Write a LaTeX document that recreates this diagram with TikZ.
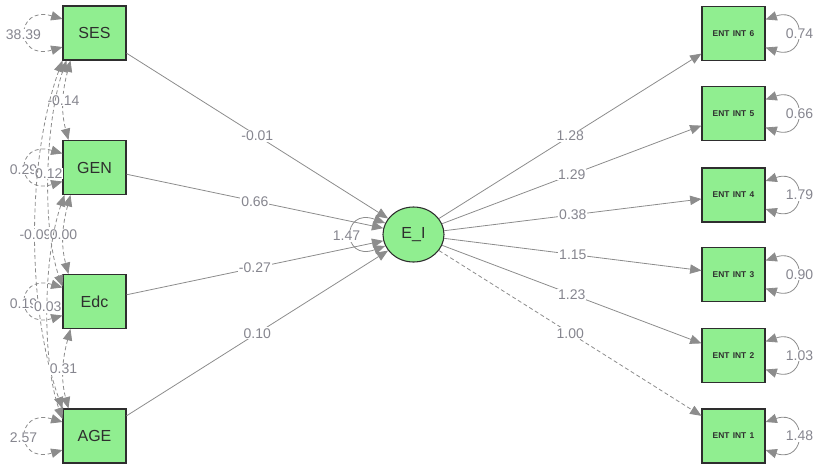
\documentclass[tikz,border=0pt]{standalone}
\usepackage{fontspec}
\setmainfont{Liberation Sans}
\usetikzlibrary{arrows.meta,shapes.geometric,calc}
\definecolor{boxfill}{HTML}{90EE90}
\definecolor{edgecol}{HTML}{8C8C8C}
\definecolor{labcol}{HTML}{86868F}
\definecolor{bordercol}{HTML}{2E2E2E}
\begin{document}
\begin{tikzpicture}[x=0.75pt,y=-0.75pt,
  manifest/.style={rectangle,draw=bordercol,fill=boxfill,line width=0.8pt,minimum width=47.25pt,minimum height=40.5pt,inner sep=0pt,font=\fontsize{12}{14}\selectfont,text=bordercol},
  entbox/.style={manifest,font=\fontsize{6.3}{7}\selectfont\bfseries},
  latent/.style={ellipse,draw=bordercol,fill=boxfill,line width=0.8pt,minimum width=45.75pt,minimum height=41.25pt,inner sep=0pt,font=\fontsize{12}{14}\selectfont,text=bordercol},
  tip/.tip={Triangle[length=8.5pt,width=7pt]},
  reg/.style={draw=edgecol,line width=0.6pt,-tip},
  regfix/.style={reg,dash pattern=on 3pt off 2pt},
  twoway/.style={draw=edgecol,line width=0.6pt,tip-tip},
  covar/.style={twoway,dash pattern=on 3pt off 2pt},
  elab/.style={fill=white,inner sep=0.6pt,text=labcol,font=\fontsize{10.5}{12}\selectfont}
]
\useasboundingbox (0,0) rectangle (817,465);

% nodes
\node[manifest] (SES) at (94.5,33) {SES};
\node[manifest] (GEN) at (94.5,167.5) {GEN};
\node[manifest] (Edc) at (94.5,301.5) {Edc};
\node[manifest] (AGE) at (94.5,436) {AGE};
\node[latent] (EI) at (413.5,234.5) {E\_I};
\node[entbox] (E6) at (733.5,33.5) {ENT\hspace{2.5pt}INT\hspace{2.5pt}6};
\node[entbox] (E5) at (733.5,113.5) {ENT\hspace{2.5pt}INT\hspace{2.5pt}5};
\node[entbox] (E4) at (733.5,195) {ENT\hspace{2.5pt}INT\hspace{2.5pt}4};
\node[entbox] (E3) at (733.5,274.5) {ENT\hspace{2.5pt}INT\hspace{2.5pt}3};
\node[entbox] (E2) at (733.5,355.5) {ENT\hspace{2.5pt}INT\hspace{2.5pt}2};
\node[entbox] (E1) at (733.5,436) {ENT\hspace{2.5pt}INT\hspace{2.5pt}1};

% regressions
\draw[reg] (SES) -- node[elab,pos=0.5]{-0.01} (EI);
\draw[reg] (GEN) -- node[elab,pos=0.5]{0.66} (EI);
\draw[reg] (Edc) -- node[elab,pos=0.5]{-0.27} (EI);
\draw[reg] (AGE) -- node[elab,pos=0.5]{0.10} (EI);

% loadings
\draw[reg] (EI) -- node[elab,pos=0.5]{1.28} (E6);
\draw[reg] (EI) -- node[elab,pos=0.5]{1.29} (E5);
\draw[reg] (EI) -- node[elab,pos=0.5]{0.38} (E4);
\draw[reg] (EI) -- node[elab,pos=0.5]{1.15} (E3);
\draw[reg] (EI) -- node[elab,pos=0.5]{1.23} (E2);
\draw[regfix] (EI) -- node[elab,pos=0.5]{1.00} (E1);

% residual variance of E_I
\draw[twoway] (EI.158) .. controls +(-44,-16) and +(-44,16) .. (EI.202);
\node[elab] (vEI) at ($(EI.west)+(-36,1.5)$) {1.47};

% residual variances of indicators
\foreach \n/\v in {E6/0.74,E5/0.66,E4/1.79,E3/0.90,E2/1.03,E1/1.48}{
  \draw[twoway] ($(\n.east)+(0,-14)$) .. controls +(42,-14) and +(42,14) .. ($(\n.east)+(0,14)$);
  \node[elab] at ($(\n.east)+(34,0)$) {\v};
}

% variances of exogenous variables
\foreach \n/\v in {SES/38.39,GEN/0.29,Edc/0.19,AGE/2.57}{
  \draw[covar] ($(\n.west)+(0,-14)$) .. controls +(-48,-14) and +(-48,14) .. ($(\n.west)+(0,14)$);
  \node[elab] at ($(\n.west)+(-39,2)$) {\v};
}

% covariances
\draw[covar] ($(SES.south west)+(8,0)$) .. controls +(-8,30) and +(-8,-30) .. node[elab,pos=0.5]{-0.14} ($(GEN.north west)+(6,0)$);
\draw[covar] ($(SES.south west)+(4,0)$) .. controls +(-21,60) and +(-21,-60) .. node[elab,pos=0.5]{0.12} ($(Edc.west)+(0,-15)$);
\draw[covar] (SES.south west) .. controls +(-36,100) and +(-36,-100) .. node[elab,pos=0.5]{-0.09} (AGE.north west);
\draw[covar] ($(GEN.south west)+(8,0)$) .. controls +(-8,30) and +(-8,-30) .. node[elab,pos=0.5]{0.00} ($(Edc.north west)+(6,0)$);
\draw[covar] ($(GEN.south west)+(2,0)$) .. controls +(-21,60) and +(-21,-60) .. node[elab,pos=0.5]{0.03} ($(AGE.west)+(0,-17)$);
\draw[covar] ($(Edc.south west)+(8,0)$) .. controls +(-8,30) and +(-8,-30) .. node[elab,pos=0.5]{0.31} ($(AGE.north west)+(6,0)$);
\end{tikzpicture}
\end{document}
